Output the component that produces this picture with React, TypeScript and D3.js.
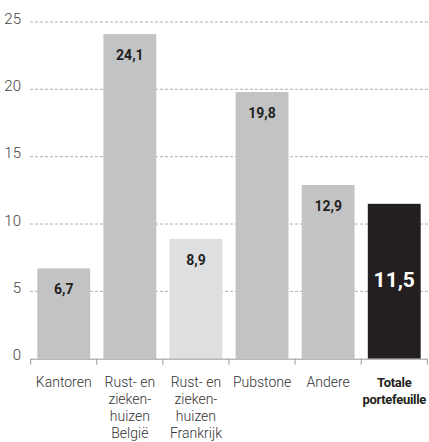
import React from "react";
import * as d3 from "d3";

const categories = ["Kantoren", "Rust- en zieken- huizen België", "Rust- en zieken- huizen Frankrijk", "Pubstone", "Andere", "Totale portefeuille"];
const categoryLines = [
  ["Kantoren"],
  ["Rust- en", "zieken-", "huizen", "België"],
  ["Rust- en", "zieken-", "huizen", "Frankrijk"],
  ["Pubstone"],
  ["Andere"],
  ["Totale", "portefeuille"],
];
const values = [6.7, 24.1, 8.9, 19.8, 12.9, 11.5];
const valueLabels = ["6,7", "24,1", "8,9", "19,8", "12,9", "11,5"];
const yTicks = [0, 5, 10, 15, 20, 25];

const W = 429;
const H = 442;
const FONT = "Roboto, 'DejaVu Sans', sans-serif";

export default function App() {
  const x = d3.scaleBand<string>().domain(categories).range([30.7, 427.3]).paddingInner(0.2).paddingOuter(0.1);
  const y = d3.scaleLinear().domain([0, 25]).range([358.7, 22]);
  const step = x.step();
  const bw = x.bandwidth();
  const off = (step - bw) / 2;
  const tickXs = categories.map((c) => (x(c) as number) - off).concat([(x(categories[categories.length - 1]) as number) + bw + off]);
  const baseY = y(0);

  const fill = (i: number) => (i === 5 ? "#231f20" : i === 2 ? "#dedfe1" : "#c2c3c5");

  return (
    <svg width={W} height={H} style={{ position: "absolute", left: 0, top: 0, background: "#fff" }} fontFamily={FONT}>
      {yTicks.map((t) => (
        <g key={t}>
          {t > 0 && (
            <line x1={30} x2={W} y1={y(t)} y2={y(t)} stroke="#b0b0b0" strokeWidth={1} strokeDasharray="3 2" />
          )}
          <text x={21} y={y(t) + 1.5} textAnchor="end" fontSize={15} fontWeight={300} fill="#444">
            {t}
          </text>
        </g>
      ))}
      {values.map((v, i) => (
        <rect key={i} x={x(categories[i])} y={y(v)} width={bw} height={baseY - y(v)} fill={fill(i)} />
      ))}
      {values.map((v, i) => {
        const cx = (x(categories[i]) as number) + bw / 2;
        if (i === 5) {
          return (
            <text key={i} x={cx} y={(y(v) + baseY) / 2 + 6} textAnchor="middle" fontSize={21} fontWeight={700} fill="#fff">
              {valueLabels[i]}
            </text>
          );
        }
        return (
          <text key={i} x={cx} y={y(v) + 26} textAnchor="middle" fontSize={14} fontWeight={700} fill="#231f20">
            {valueLabels[i]}
          </text>
        );
      })}
      <line x1={30.7} x2={427.3} y1={baseY + 0.5} y2={baseY + 0.5} stroke="#999" strokeWidth={1} />
      {tickXs.map((tx, i) => (
        <line key={i} x1={tx} x2={tx} y1={baseY} y2={baseY + 6} stroke="#999" strokeWidth={1} />
      ))}
      {categoryLines.map((lines, i) => {
        const cx = (x(categories[i]) as number) + bw / 2;
        const bold = i === 5;
        return (
          <text key={i} x={cx} textAnchor="middle" fontSize={bold ? 13 : 14} fontWeight={bold ? 700 : 300} fill={bold ? "#231f20" : "#333"} letterSpacing={bold ? -0.3 : 0}>
            {lines.map((l, j) => (
              <tspan key={j} x={cx} y={387 + j * 17}>
                {l}
              </tspan>
            ))}
          </text>
        );
      })}
    </svg>
  );
}
